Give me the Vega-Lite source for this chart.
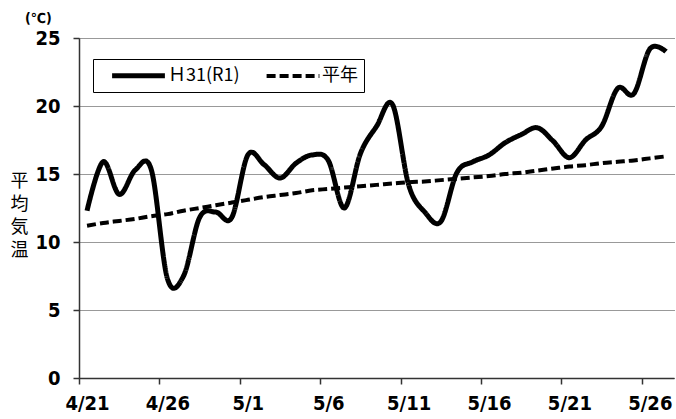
{
  "$schema": "https://vega.github.io/schema/vega-lite/v6.json",
  "width": 595,
  "height": 340,
  "autosize": {"type": "none"},
  "padding": {"left": 79, "top": 38, "right": 2, "bottom": 41},
  "background": "white",
  "title": {"text": "(℃)", "anchor": "start", "frame": "group", "dx": -54, "offset": 2, "fontSize": 14, "fontWeight": "bold", "font": "DejaVu Sans Condensed, sans-serif", "color": "black"},
  "data": {"values": [
    {"date": "2019/04/21", "series": "Ｈ31(R1)", "temp": 12.3},
    {"date": "2019/04/22", "series": "Ｈ31(R1)", "temp": 15.9},
    {"date": "2019/04/23", "series": "Ｈ31(R1)", "temp": 13.5},
    {"date": "2019/04/24", "series": "Ｈ31(R1)", "temp": 15.3},
    {"date": "2019/04/25", "series": "Ｈ31(R1)", "temp": 15.3},
    {"date": "2019/04/26", "series": "Ｈ31(R1)", "temp": 7.3},
    {"date": "2019/04/27", "series": "Ｈ31(R1)", "temp": 7.5},
    {"date": "2019/04/28", "series": "Ｈ31(R1)", "temp": 11.8},
    {"date": "2019/04/29", "series": "Ｈ31(R1)", "temp": 12.2},
    {"date": "2019/04/30", "series": "Ｈ31(R1)", "temp": 11.8},
    {"date": "2019/05/01", "series": "Ｈ31(R1)", "temp": 16.4},
    {"date": "2019/05/02", "series": "Ｈ31(R1)", "temp": 15.7},
    {"date": "2019/05/03", "series": "Ｈ31(R1)", "temp": 14.7},
    {"date": "2019/05/04", "series": "Ｈ31(R1)", "temp": 15.8},
    {"date": "2019/05/05", "series": "Ｈ31(R1)", "temp": 16.4},
    {"date": "2019/05/06", "series": "Ｈ31(R1)", "temp": 16.0},
    {"date": "2019/05/07", "series": "Ｈ31(R1)", "temp": 12.5},
    {"date": "2019/05/08", "series": "Ｈ31(R1)", "temp": 16.5},
    {"date": "2019/05/09", "series": "Ｈ31(R1)", "temp": 18.5},
    {"date": "2019/05/10", "series": "Ｈ31(R1)", "temp": 20.1},
    {"date": "2019/05/11", "series": "Ｈ31(R1)", "temp": 14.2},
    {"date": "2019/05/12", "series": "Ｈ31(R1)", "temp": 12.2},
    {"date": "2019/05/13", "series": "Ｈ31(R1)", "temp": 11.5},
    {"date": "2019/05/14", "series": "Ｈ31(R1)", "temp": 15.1},
    {"date": "2019/05/15", "series": "Ｈ31(R1)", "temp": 15.9},
    {"date": "2019/05/16", "series": "Ｈ31(R1)", "temp": 16.4},
    {"date": "2019/05/17", "series": "Ｈ31(R1)", "temp": 17.3},
    {"date": "2019/05/18", "series": "Ｈ31(R1)", "temp": 17.9},
    {"date": "2019/05/19", "series": "Ｈ31(R1)", "temp": 18.4},
    {"date": "2019/05/20", "series": "Ｈ31(R1)", "temp": 17.4},
    {"date": "2019/05/21", "series": "Ｈ31(R1)", "temp": 16.2},
    {"date": "2019/05/22", "series": "Ｈ31(R1)", "temp": 17.5},
    {"date": "2019/05/23", "series": "Ｈ31(R1)", "temp": 18.5},
    {"date": "2019/05/24", "series": "Ｈ31(R1)", "temp": 21.3},
    {"date": "2019/05/25", "series": "Ｈ31(R1)", "temp": 20.9},
    {"date": "2019/05/26", "series": "Ｈ31(R1)", "temp": 24.2},
    {"date": "2019/05/27", "series": "Ｈ31(R1)", "temp": 24.0},
    {"date": "2019/04/21", "series": "平年", "temp": 11.2},
    {"date": "2019/04/22", "series": "平年", "temp": 11.4},
    {"date": "2019/04/23", "series": "平年", "temp": 11.55},
    {"date": "2019/04/24", "series": "平年", "temp": 11.7},
    {"date": "2019/04/25", "series": "平年", "temp": 11.9},
    {"date": "2019/04/26", "series": "平年", "temp": 12.05},
    {"date": "2019/04/27", "series": "平年", "temp": 12.3},
    {"date": "2019/04/28", "series": "平年", "temp": 12.5},
    {"date": "2019/04/29", "series": "平年", "temp": 12.7},
    {"date": "2019/04/30", "series": "平年", "temp": 12.9},
    {"date": "2019/05/01", "series": "平年", "temp": 13.1},
    {"date": "2019/05/02", "series": "平年", "temp": 13.3},
    {"date": "2019/05/03", "series": "平年", "temp": 13.45},
    {"date": "2019/05/04", "series": "平年", "temp": 13.6},
    {"date": "2019/05/05", "series": "平年", "temp": 13.8},
    {"date": "2019/05/06", "series": "平年", "temp": 13.9},
    {"date": "2019/05/07", "series": "平年", "temp": 14.0},
    {"date": "2019/05/08", "series": "平年", "temp": 14.1},
    {"date": "2019/05/09", "series": "平年", "temp": 14.2},
    {"date": "2019/05/10", "series": "平年", "temp": 14.3},
    {"date": "2019/05/11", "series": "平年", "temp": 14.4},
    {"date": "2019/05/12", "series": "平年", "temp": 14.45},
    {"date": "2019/05/13", "series": "平年", "temp": 14.55},
    {"date": "2019/05/14", "series": "平年", "temp": 14.65},
    {"date": "2019/05/15", "series": "平年", "temp": 14.75},
    {"date": "2019/05/16", "series": "平年", "temp": 14.85},
    {"date": "2019/05/17", "series": "平年", "temp": 15.0},
    {"date": "2019/05/18", "series": "平年", "temp": 15.1},
    {"date": "2019/05/19", "series": "平年", "temp": 15.25},
    {"date": "2019/05/20", "series": "平年", "temp": 15.4},
    {"date": "2019/05/21", "series": "平年", "temp": 15.55},
    {"date": "2019/05/22", "series": "平年", "temp": 15.65},
    {"date": "2019/05/23", "series": "平年", "temp": 15.8},
    {"date": "2019/05/24", "series": "平年", "temp": 15.9},
    {"date": "2019/05/25", "series": "平年", "temp": 16.0},
    {"date": "2019/05/26", "series": "平年", "temp": 16.15},
    {"date": "2019/05/27", "series": "平年", "temp": 16.3}
  ]},
  "mark": {"type": "line", "interpolate": "cardinal", "color": "black", "strokeCap": "butt", "strokeJoin": "round"},
  "encoding": {
    "x": {
      "field": "date", "type": "temporal",
      "scale": {"domain": [{"year": 2019, "month": 4, "date": 20, "hours": 12}, {"year": 2019, "month": 5, "date": 27, "hours": 12}]},
      "axis": {
        "title": null, "grid": false,
        "values": [
          {"year": 2019, "month": 4, "date": 20, "hours": 12},
          {"year": 2019, "month": 4, "date": 25, "hours": 12},
          {"year": 2019, "month": 4, "date": 30, "hours": 12},
          {"year": 2019, "month": 5, "date": 5, "hours": 12},
          {"year": 2019, "month": 5, "date": 10, "hours": 12},
          {"year": 2019, "month": 5, "date": 15, "hours": 12},
          {"year": 2019, "month": 5, "date": 20, "hours": 12},
          {"year": 2019, "month": 5, "date": 25, "hours": 12}
        ],
        "labelExpr": "timeFormat(timeOffset('hours', datum.value, 12), '%-m/%-d')",
        "labelOffset": 8, "labelFlush": false, "labelOverlap": false, "labelBound": false,
        "labelFont": "DejaVu Sans Condensed, sans-serif",
        "labelFontSize": 20, "labelFontWeight": "bold", "labelColor": "black", "labelPadding": 9,
        "tickSize": 6, "tickColor": "#333", "tickWidth": 1.5,
        "domainColor": "#333", "domainWidth": 1.5
      }
    },
    "y": {
      "field": "temp", "type": "quantitative",
      "scale": {"domain": [0, 25], "nice": false, "zero": true},
      "axis": {
        "values": [0, 5, 10, 15, 20, 25],
        "title": ["平", "均", "気", "温"],
        "titleAngle": 0, "titleX": -60, "titleY": 134, "titleAlign": "center", "titleBaseline": "top",
        "titleLineHeight": 23, "titleFont": "Noto Sans CJK JP", "titleFontSize": 18, "titleFontWeight": "normal", "titleColor": "black",
        "labelFont": "DejaVu Sans Condensed, sans-serif",
        "labelFontSize": 20, "labelFontWeight": "bold", "labelColor": "black", "labelPadding": 13,
        "tickSize": 6, "tickColor": "#333", "tickWidth": 1.5,
        "domainColor": "#333", "domainWidth": 1.5,
        "grid": true, "gridColor": "#333", "gridDash": [1, 1], "gridWidth": 1
      }
    },
    "strokeDash": {
      "field": "series", "type": "nominal",
      "scale": {"domain": ["Ｈ31(R1)", "平年"], "range": [[1, 0], [9, 4]]},
      "legend": {
        "title": null, "orient": "none", "legendX": 14, "legendY": 21, "direction": "horizontal",
        "strokeColor": "black", "fillColor": "white", "padding": 6,
        "symbolType": "M-3.3,0H3.3", "symbolSize": 256, "symbolStrokeWidth": 4.5, "symbolStrokeColor": "black", "symbolOffset": 29,
        "labelFont": "Noto Sans CJK JP", "labelFontSize": 18, "labelColor": "black", "labelOffset": 19,
        "columnPadding": 14
      }
    },
    "strokeWidth": {
      "field": "series", "type": "nominal",
      "scale": {"domain": ["Ｈ31(R1)", "平年"], "range": [5, 4]},
      "legend": null
    }
  },
  "config": {"view": {"stroke": null}}
}
